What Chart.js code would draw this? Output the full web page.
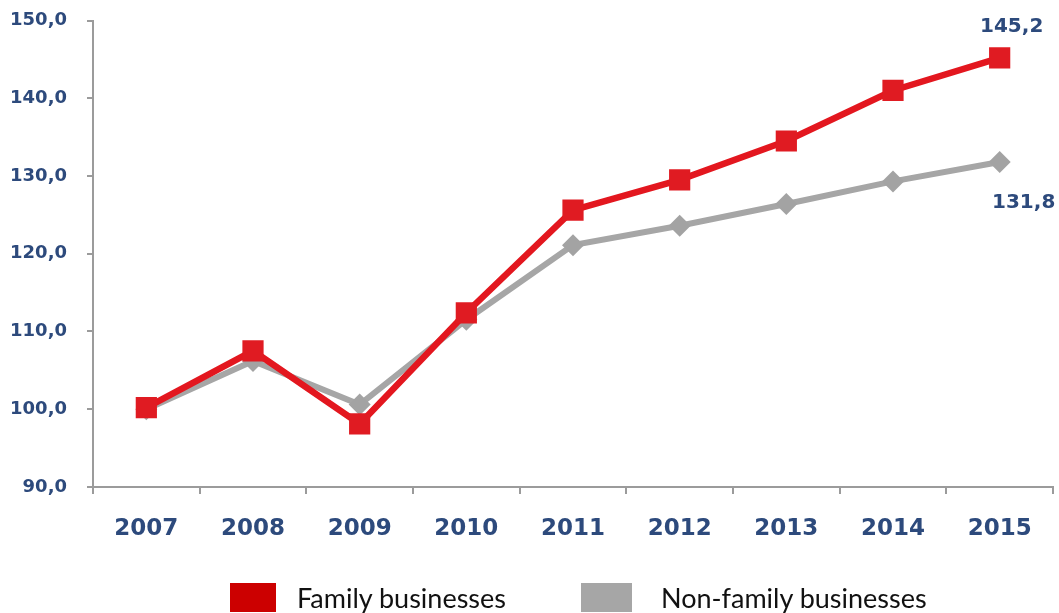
<!DOCTYPE html>
<html>
<head>
<meta charset="utf-8">
<script src="https://cdn.jsdelivr.net/npm/chart.js@4"></script>
<style>
  html, body { margin: 0; padding: 0; background: #fff; }
  #wrap { position: relative; width: 1059px; height: 613px; }
  #legend {
    position: absolute; left: 230px; top: 581px;
    display: flex; align-items: center;
    font-family: Lato, sans-serif; font-size: 27px; color: #111;
  }
  #legend .item { display: flex; align-items: center; margin-right: 75px; }
  #legend .box { width: 46px; height: 29px; margin-right: 21px; }
  #legend .item + .item .box { width: 51px; margin-right: 29px; }
</style>
</head>
<body>
<div id="wrap">
  <canvas id="chart"></canvas>
  <div id="legend"></div>
</div>
<script>
const years = ['2007', '2008', '2009', '2010', '2011', '2012', '2013', '2014', '2015'];
const familyValues = [100.2, 107.5, 98.1, 112.4, 125.6, 129.5, 134.5, 141.0, 145.2];
const nonFamilyValues = [100.0, 106.2, 100.6, 111.5, 121.1, 123.6, 126.4, 129.3, 131.8];
const yTicks = [90, 100, 110, 120, 130, 140, 150];

const navy = '#2d4a7c';
const axisGrey = '#9b9b9b';

const fmt = v => v.toFixed(1).replace('.', ',');

// value labels next to the last point of each line
const endLabels = {
  id: 'endLabels',
  afterDatasetsDraw(chart, args, opts) {
    const { ctx } = chart;
    ctx.save();
    ctx.font = 'bold 20px "DejaVu Sans"';
    ctx.fillStyle = navy;
    ctx.textAlign = 'center';
    ctx.textBaseline = 'middle';
    opts.offsets.forEach((off, i) => {
      const meta = chart.getDatasetMeta(i);
      const last = meta.data[meta.data.length - 1];
      const data = chart.data.datasets[i].data;
      ctx.fillText(fmt(data[data.length - 1]), last.x + off[0], last.y + off[1]);
    });
    ctx.restore();
  }
};

const chart = new Chart(document.getElementById('chart'), {
  type: 'line',
  data: {
    labels: years,
    datasets: [
      {
        label: 'Family businesses',
        data: familyValues,
        borderColor: '#e3171f',
        backgroundColor: '#cc0000',
        borderWidth: 6.5,
        pointStyle: 'rect',
        pointRadius: 15,
        pointBackgroundColor: '#e01b22',
        pointBorderWidth: 0,
        tension: 0
      },
      {
        label: 'Non-family businesses',
        data: nonFamilyValues,
        borderColor: '#a6a6a6',
        backgroundColor: '#a6a6a6',
        borderWidth: 6,
        pointStyle: 'rectRot',
        pointRadius: 11,
        pointBackgroundColor: '#a3a3a3',
        pointBorderWidth: 0,
        tension: 0
      }
    ]
  },
  options: {
    responsive: true,
    maintainAspectRatio: false,
    animation: false,
    layout: { autoPadding: false, padding: { top: 20.5, left: 10, right: 6, bottom: 49.5 } },
    plugins: {
      tooltip: { enabled: false },
      legend: { display: false },
      endLabels: { offsets: [[12, -31], [24, 41]] }
    },
    scales: {
      x: {
        offset: true,
        afterFit(axis) { axis.paddingLeft = 0; axis.paddingRight = 0; },
        border: { color: axisGrey, width: 2 },
        grid: { offset: true, drawOnChartArea: false, color: axisGrey, lineWidth: 2, tickLength: 7 },
        ticks: { color: navy, padding: 21, font: { family: 'DejaVu Sans', weight: 'bold', size: 23 } }
      },
      y: {
        min: 90,
        max: 150,
        afterBuildTicks(axis) { axis.ticks = yTicks.map(v => ({ value: v })); },
        afterFit(axis) {
          // keep the tick padding from pushing the plot area down
          axis.width = 83;
          axis.paddingTop = 0;
          axis.paddingBottom = 0;
        },
        border: { color: axisGrey, width: 2 },
        grid: { drawOnChartArea: false, color: axisGrey, lineWidth: 2, tickLength: 6 },
        ticks: {
          color: navy,
          padding: 20,
          font: { family: 'DejaVu Sans', weight: 'bold', size: 18 },
          callback: v => fmt(v)
        }
      }
    }
  },
  plugins: [endLabels]
});

// legend built from the datasets
document.getElementById('legend').innerHTML = chart.data.datasets.map(ds =>
  `<div class="item"><span class="box" style="background:${ds.backgroundColor}"></span>${ds.label}</div>`
).join('');
</script>
</body>
</html>
